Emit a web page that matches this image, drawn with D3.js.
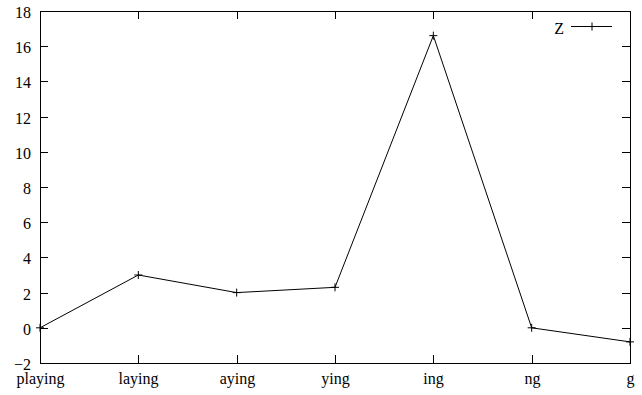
<!DOCTYPE html>
<html>
<head>
<meta charset="utf-8">
<script src="https://cdn.jsdelivr.net/npm/d3@7"></script>
</head>
<body style="margin:0">
<svg class="chart"></svg>
<script>
const categories = ['playing', 'laying', 'aying', 'ying', 'ing', 'ng', 'g']
const zValues = [0, 3, 2, 2.3, 16.6, 0, -0.8]
const yTicks = [-2, 0, 2, 4, 6, 8, 10, 12, 14, 16, 18]
const seriesName = 'Z'

const width = 642
const height = 395
const plotLeft = 40
const plotRight = 630
const plotTop = 11
const plotBottom = 363
const tickLen = 8

const xScale = d3.scalePoint()
  .domain(categories)
  .range([plotLeft, plotRight])

const yScale = d3.scaleLinear()
  .domain([-2, 18])
  .range([plotBottom, plotTop])

const chart = d3.select('.chart')
  .attr('width', width)
  .attr('height', height)

// frame
chart.append('rect')
  .attr('x', plotLeft + 0.5)
  .attr('y', plotTop + 0.5)
  .attr('width', plotRight - plotLeft)
  .attr('height', plotBottom - plotTop)
  .attr('fill', 'none')
  .attr('stroke', '#000')

// y ticks, inward on both sides
const yTick = chart.append('g').attr('class', 'yTicks')
  .selectAll('g')
  .data(yTicks)
  .enter()
  .append('g')
  .attr('transform', d => `translate(0,${Math.round(yScale(d)) + 0.5})`)
yTick.append('line').attr('x1', plotLeft).attr('x2', plotLeft + tickLen).attr('stroke', '#000')
yTick.append('line').attr('x1', plotRight).attr('x2', plotRight - tickLen).attr('stroke', '#000')
yTick.append('text')
  .attr('x', plotLeft - 9)
  .attr('y', 1)
  .attr('dy', '0.35em')
  .attr('text-anchor', 'end')
  .attr('font-family', 'Liberation Serif')
  .attr('font-size', 16)
  .text(d => d < 0 ? '\u2212' + Math.abs(d) : d)

// x ticks, inward on top and bottom
const xTick = chart.append('g').attr('class', 'xTicks')
  .selectAll('g')
  .data(categories)
  .enter()
  .append('g')
  .attr('transform', d => `translate(${Math.round(xScale(d)) + 0.5},0)`)
xTick.append('line').attr('y1', plotBottom).attr('y2', plotBottom - tickLen).attr('stroke', '#000')
xTick.append('line').attr('y1', plotTop).attr('y2', plotTop + tickLen).attr('stroke', '#000')
xTick.append('text')
  .attr('y', plotBottom + 21)
  .attr('text-anchor', 'middle')
  .attr('font-family', 'Liberation Serif')
  .attr('font-size', 16)
  .text(d => d)

// series line
const line = d3.line()
  .x((d, i) => xScale(categories[i]))
  .y(d => yScale(d))

chart.append('path')
  .datum(zValues)
  .attr('d', line)
  .attr('fill', 'none')
  .attr('stroke', '#000')
  .attr('stroke-width', 1)

const plus = (g, x, y) => {
  g.append('line').attr('x1', x - 4).attr('x2', x + 4).attr('y1', y).attr('y2', y).attr('stroke', '#000')
  g.append('line').attr('x1', x).attr('x2', x).attr('y1', y - 4).attr('y2', y + 4).attr('stroke', '#000')
}

const points = chart.append('g').attr('class', 'points')
zValues.forEach((v, i) => plus(points, xScale(categories[i]), yScale(v)))

// legend
const legend = chart.append('g').attr('class', 'legend')
legend.append('text')
  .attr('x', 564)
  .attr('y', 28)
  .attr('dy', '0.35em')
  .attr('text-anchor', 'end')
  .attr('font-family', 'Liberation Serif')
  .attr('font-size', 16)
  .text(seriesName)
legend.append('line')
  .attr('x1', 571).attr('x2', 612)
  .attr('y1', 26.5).attr('y2', 26.5)
  .attr('stroke', '#000')
plus(legend, 592, 26.5)
</script>
</body>
</html>
